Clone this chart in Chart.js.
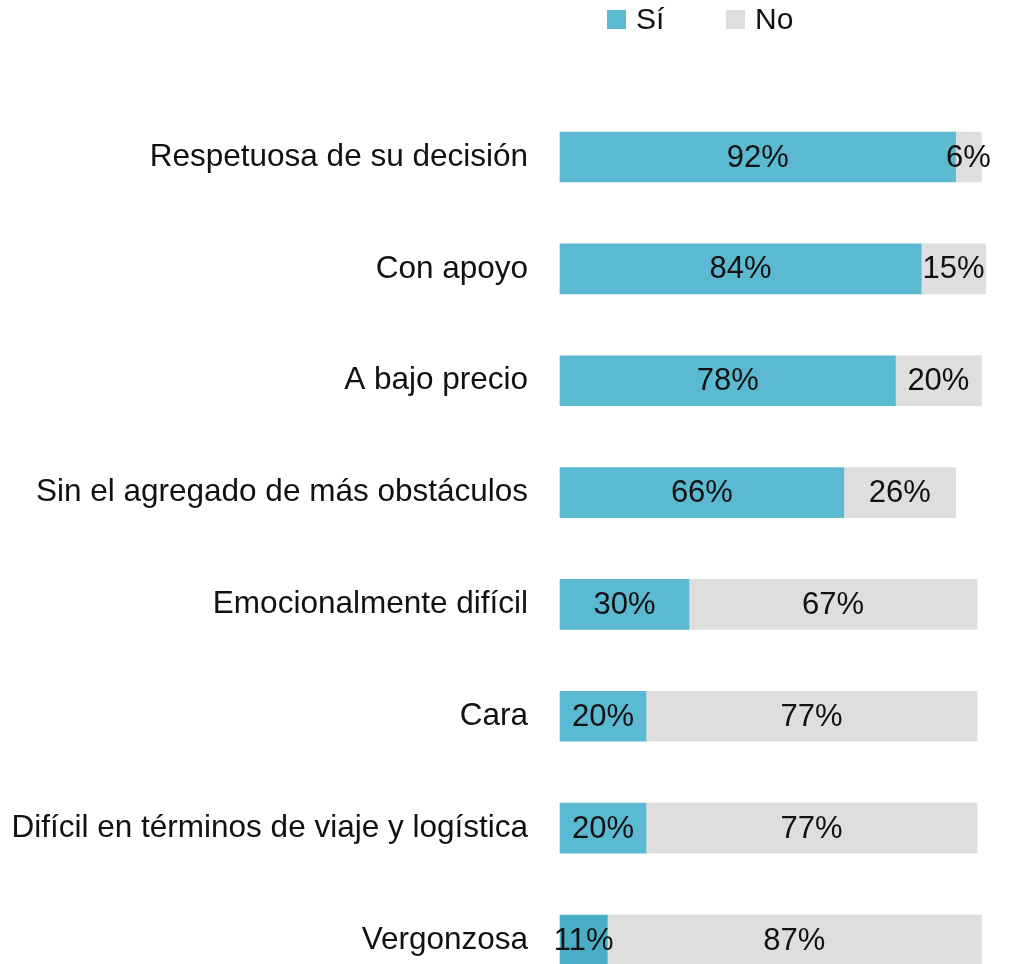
<!DOCTYPE html>
<html>
<head>
<meta charset="utf-8">
<script src="https://cdn.jsdelivr.net/npm/chart.js@4"></script>
<style>
  body { margin: 0; background: #fff; }
  #wrap { width: 1023px; height: 964px; position: relative; }
</style>
</head>
<body>
<div id="wrap"><canvas id="canvas"></canvas></div>
<script>
var categorias = [
    'Respetuosa de su decisión',
    'Con apoyo',
    'A bajo precio',
    'Sin el agregado de más obstáculos',
    'Emocionalmente difícil',
    'Cara',
    'Difícil en términos de viaje y logística',
    'Vergonzosa'
];
var valores_si = [92, 84, 78, 66, 30, 20, 20, 11];
var valores_no = [6, 15, 20, 26, 67, 77, 77, 87];

var fuente = '"Liberation Sans", Arial, sans-serif';
var colores_si = ['#5bb9d1', '#5bb9d1', '#5bb9d1', '#5bb9d1', '#5bb9d1', '#5bb9d1', '#5bb9d1', '#4aadc6'];

// etiquetas de porcentaje dentro de cada barra
var etiquetas = {
    id: 'etiquetas',
    afterDatasetsDraw: function(chart) {
        var c = chart.ctx;
        c.save();
        c.font = '31px ' + fuente;
        c.fillStyle = '#111';
        c.textAlign = 'center';
        c.textBaseline = 'middle';
        chart.data.datasets.forEach(function(ds, i) {
            var meta = chart.getDatasetMeta(i);
            meta.data.forEach(function(bar, j) {
                var p = bar.getProps(['x', 'y', 'base'], true);
                c.fillText(ds.data[j] + '%', (p.x + p.base) / 2, p.y + 1);
            });
        });
        c.restore();
    }
};

// leyenda arriba
var leyenda = {
    id: 'leyenda',
    afterDraw: function(chart) {
        var c = chart.ctx;
        c.save();
        c.font = '30px ' + fuente;
        c.textBaseline = 'middle';
        var x = 607;
        chart.data.datasets.forEach(function(ds) {
            c.fillStyle = ds.legendColor;
            c.fillRect(x, 10, 19, 19);
            c.fillStyle = '#111';
            c.fillText(ds.label, x + 29, 21);
            x += 119;
        });
        c.restore();
    }
};

var ctx = document.getElementById('canvas').getContext('2d');
var myChart = new Chart(ctx, {
    type: 'bar',
    data: {
        labels: categorias,
        datasets: [{
            label: 'Sí',
            data: valores_si,
            backgroundColor: colores_si,
            legendColor: '#5bb9d1',
            borderWidth: 0,
            barThickness: 50,
            clip: false
        }, {
            label: 'No',
            data: valores_no,
            backgroundColor: '#dedede',
            legendColor: '#dedede',
            borderWidth: 0,
            barThickness: 50,
            clip: false
        }]
    },
    options: {
        indexAxis: 'y',
        responsive: true,
        maintainAspectRatio: false,
        animation: false,
        layout: {
            padding: { top: 157, bottom: 24, left: 0, right: 33 }
        },
        plugins: {
            legend: { display: false },
            tooltip: { enabled: false }
        },
        scales: {
            x: {
                stacked: true,
                min: 0,
                max: 100,
                display: false
            },
            y: {
                stacked: true,
                offset: false,
                grid: { display: false, drawTicks: false },
                border: { display: false },
                ticks: {
                    padding: 32,
                    color: '#111',
                    font: { family: fuente, size: 31.5 }
                },
                afterFit: function(s) {
                    s.width = 560;
                    s.paddingTop = 0;
                    s.paddingBottom = 0;
                }
            }
        }
    },
    plugins: [etiquetas, leyenda]
});
</script>
</body>
</html>
